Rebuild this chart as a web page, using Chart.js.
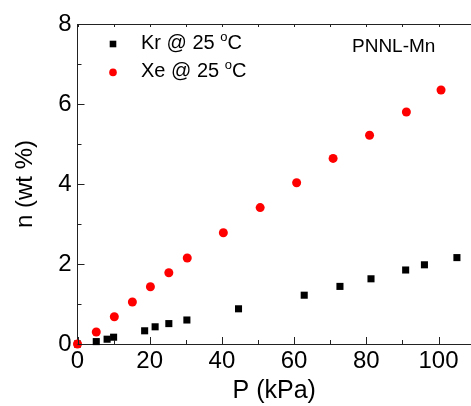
<!DOCTYPE html>
<html>
<head>
<meta charset="utf-8">
<script src="https://cdn.jsdelivr.net/npm/chart.js@4/dist/chart.umd.min.js"></script>
<style>
html,body{margin:0;padding:0;background:#fff;}
#wrap{width:471px;height:406px;position:relative;}
</style>
</head>
<body>
<div id="wrap"><canvas id="c" width="471" height="406"></canvas></div>
<script>
// ---- data ----
const krP = [0, 5.2, 8.2, 10.0, 18.6, 21.5, 25.3, 30.3, 44.6, 62.8, 72.7, 81.3, 90.9, 96.1, 105.1];
const krN = [0, 0.06, 0.12, 0.17, 0.33, 0.43, 0.51, 0.60, 0.88, 1.22, 1.44, 1.63, 1.85, 1.98, 2.16];
const xeP = [0, 5.2, 10.2, 15.2, 20.2, 25.3, 30.4, 40.4, 50.6, 60.7, 70.8, 80.9, 91.1, 100.7];
const xeN = [0, 0.30, 0.68, 1.05, 1.43, 1.78, 2.15, 2.78, 3.41, 4.03, 4.64, 5.22, 5.80, 6.35];
const seriesLabels = ['Kr @ 25 ', 'Xe @ 25 '];
const xTickLabels = [0, 20, 40, 60, 80, 100];
const yTickLabels = [0, 2, 4, 6, 8];
const xMinorTicks = [10, 30, 50, 70, 90];
const yMinorTicks = [1, 3, 5, 7];
const sampleLabel = 'PNNL-Mn';

const FONT = '"Liberation Sans", Arial, Helvetica, sans-serif';
const toXY = (xs, ys) => xs.map((x, i) => ({x: x, y: ys[i]}));

const tickPlugin = {
  id: 'inwardTicks',
  afterDraw(chart) {
    const ctx = chart.ctx, xs = chart.scales.x, ys = chart.scales.y, a = chart.chartArea;
    ctx.save();
    ctx.strokeStyle = '#222';
    ctx.lineWidth = 1;
    ctx.beginPath();
    // top frame line
    ctx.moveTo(a.left, a.top + 0.5); ctx.lineTo(a.right, a.top + 0.5);
    const xAll = xTickLabels.map(v => [v, 7]).concat(xMinorTicks.map(v => [v, 4]));
    xAll.forEach(([v, len]) => {
      const px = Math.round(xs.getPixelForValue(v)) + 0.5;
      ctx.moveTo(px, a.bottom); ctx.lineTo(px, a.bottom - len);
      ctx.moveTo(px, a.top); ctx.lineTo(px, a.top + 3);
    });
    const yAll = yTickLabels.map(v => [v, 7]).concat(yMinorTicks.map(v => [v, 4]));
    yAll.forEach(([v, len]) => {
      const py = Math.round(ys.getPixelForValue(v)) + 0.5;
      ctx.moveTo(a.left, py); ctx.lineTo(a.left + len, py);
    });
    ctx.stroke();

    // legend
    ctx.font = '20px ' + FONT;
    ctx.textBaseline = 'middle';
    ctx.fillStyle = '#000';
    const legendRows = [
      {y: ys.getPixelForValue(7.5), ds: chart.data.datasets[0]},
      {y: ys.getPixelForValue(6.79), ds: chart.data.datasets[1]}
    ];
    legendRows.forEach((row, i) => {
      const mx = 113, my = row.y;
      ctx.fillStyle = row.ds.backgroundColor;
      if (row.ds.pointStyle === 'rect') {
        ctx.fillRect(mx - 3.3, my - 3.3, 6.6, 6.6);
      } else {
        ctx.beginPath(); ctx.arc(mx, my, 3.8, 0, Math.PI * 2); ctx.fill();
      }
      ctx.fillStyle = '#000';
      ctx.font = '20px ' + FONT;
      let tx = 141;
      ctx.fillText(row.ds.label, tx, my - 0.5);
      tx += ctx.measureText(row.ds.label).width;
      ctx.font = '13px ' + FONT;
      ctx.fillText('o', tx, my - 7);
      tx += ctx.measureText('o').width;
      ctx.font = '20px ' + FONT;
      ctx.fillText('C', tx, my - 0.5);
    });
    // sample label
    ctx.font = '19px ' + FONT;
    ctx.textAlign = 'left';
    ctx.fillText(sampleLabel, 352, ys.getPixelForValue(7.44));
    ctx.restore();
  }
};

new Chart(document.getElementById('c'), {
  type: 'scatter',
  data: {
    datasets: [
      {label: seriesLabels[0], data: toXY(krP, krN), pointStyle: 'rect', pointRadius: 5, pointHoverRadius: 5,
       backgroundColor: '#000000', borderColor: '#000000', borderWidth: 0, order: 1},
      {label: seriesLabels[1], data: toXY(xeP, xeN), pointStyle: 'circle', pointRadius: 4.5, pointHoverRadius: 4.5,
       backgroundColor: '#ff0000', borderColor: '#ff0000', borderWidth: 0, order: 0}
    ]
  },
  options: {
    responsive: false,
    animation: false,
    devicePixelRatio: 1,
    clip: false,
    layout: {autoPadding: false, padding: {top: 24, right: 0, left: 0, bottom: 0}},
    plugins: {legend: {display: false}, tooltip: {enabled: false}},
    scales: {
      x: {
        type: 'linear', min: 0, max: 109,
        grid: {display: false, drawTicks: false},
        border: {display: true, color: '#222', width: 1},
        ticks: {stepSize: 20, includeBounds: false, padding: 3, color: '#000', font: {family: FONT, size: 24},
                callback: v => xTickLabels.includes(v) ? String(v) : null, maxRotation: 0, autoSkip: false},
        title: {display: true, text: 'P (kPa)', color: '#000', font: {family: FONT, size: 25}, padding: {top: 0, bottom: 0}},
        afterFit: s => { s.height = 62; }
      },
      y: {
        type: 'linear', min: 0, max: 8,
        grid: {display: false, drawTicks: false},
        border: {display: true, color: '#222', width: 1},
        ticks: {stepSize: 2, padding: 6, color: '#000', font: {family: FONT, size: 24},
                callback: v => yTickLabels.includes(v) ? String(v) : null},
        title: {display: true, text: 'n (wt %)', color: '#000', font: {family: FONT, size: 24}, padding: {top: 11, bottom: 0}},
        afterFit: s => { s.width = 77.5; }
      }
    }
  },
  plugins: [tickPlugin]
});
</script>
</body>
</html>
